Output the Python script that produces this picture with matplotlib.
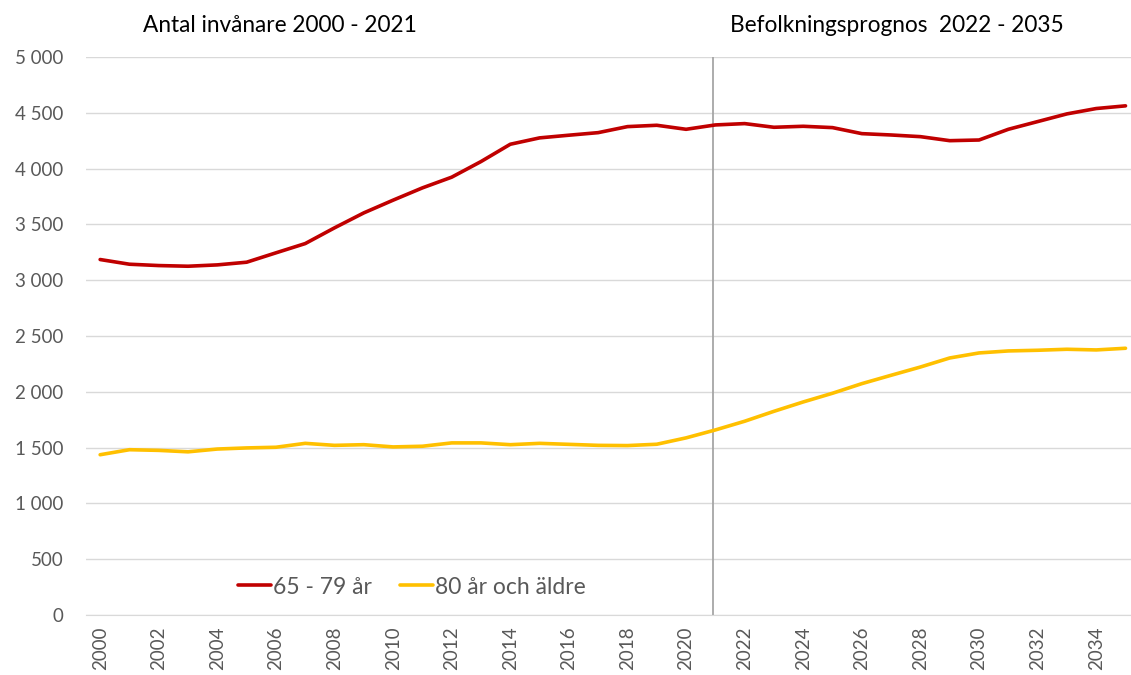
import matplotlib
matplotlib.use("Agg")
import matplotlib.pyplot as plt
import numpy as np

# data
years = list(range(2000, 2036))
age_65_79 = [3185, 3143, 3131, 3125, 3137, 3161, 3245, 3328, 3469, 3603,
             3717, 3827, 3923, 4063, 4218, 4275, 4299, 4322, 4376, 4388,
             4352, 4391, 4403, 4370, 4379, 4367, 4313, 4301, 4286, 4250,
             4256, 4352, 4421, 4490, 4538, 4562]
age_80_plus = [1436, 1481, 1475, 1462, 1487, 1497, 1503, 1538, 1520, 1526,
               1506, 1512, 1542, 1542, 1526, 1538, 1529, 1520, 1518, 1530,
               1587, 1658, 1736, 1825, 1909, 1987, 2073, 2148, 2222, 2303,
               2348, 2366, 2372, 2381, 2375, 2390]
series_names = ["65 - 79 år", "80 år och äldre"]
titles = ["Antal invånare 2000 - 2021", "Befolkningsprognos  2022 - 2035"]
split_year = 2020.92

plt.rcParams['font.family'] = ['Lato', 'DejaVu Sans']

fig = plt.figure(figsize=(11.31, 6.75), dpi=100)
ax = fig.add_axes([0.0756, 0.0889, 0.9325, 0.8267])

grey = "#595959"
ax.plot(years, age_65_79, color="#C00000", lw=2.6, label=series_names[0], solid_capstyle="round")
ax.plot(years, age_80_plus, color="#FFC000", lw=2.6, label=series_names[1], solid_capstyle="round")

ax.axvline(split_year, color="#a6a6a6", lw=1.3, zorder=1)

ax.set_xlim(1999.5, 2035.5)
ax.set_ylim(0, 5000)
yt = np.arange(0, 5001, 500)
ax.set_yticks(yt)
ax.set_yticklabels([f"{v:,}".replace(",", " ") for v in yt], color=grey, fontsize=13.5)
ax.set_xticks(years[::2])
ax.set_xticklabels([str(y) for y in years[::2]], rotation=90, color=grey, fontsize=13.5)
ax.grid(axis="y", color="#d9d9d9", lw=1.0)
ax.set_axisbelow(True)
for s in ["top", "right", "left"]:
    ax.spines[s].set_visible(False)
ax.spines["bottom"].set_color("#d9d9d9")
ax.tick_params(axis="both", length=0, pad=8)
ax.tick_params(axis="y", pad=16)

fig.text(280 / 1131, 1 - 25 / 675, titles[0], ha="center", va="center", fontsize=16.3, color="black")
fig.text(897 / 1131, 1 - 25 / 675, titles[1], ha="center", va="center", fontsize=16.3, color="black")

leg = fig.legend(loc="center left", bbox_to_anchor=(217 / 1131, 1 - 587 / 675), ncol=2,
                 frameon=False, fontsize=16.5, handlelength=1.45, handletextpad=0.1,
                 columnspacing=1.2, labelcolor=grey)

fig.savefig("out.png", dpi=100)
